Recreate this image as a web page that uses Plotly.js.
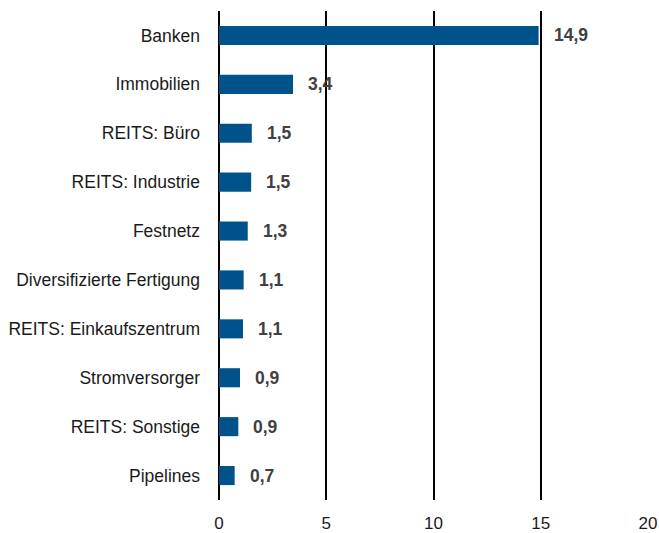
<!DOCTYPE html>
<html>
<head>
<meta charset="utf-8">
<script src="https://cdn.plot.ly/plotly-3.0.1.min.js"></script>
<style>
  html, body { margin: 0; padding: 0; background: #fff; }
  #chart { width: 659px; height: 533px; }
</style>
</head>
<body>
<div id="chart"></div>
<script>
"use strict";

/******** data ********/
var categories = ['Banken', 'Immobilien', 'REITS: Büro', 'REITS: Industrie', 'Festnetz',
  'Diversifizierte Fertigung', 'REITS: Einkaufszentrum', 'Stromversorger', 'REITS: Sonstige', 'Pipelines'];
var values = [14.9, 3.45, 1.53, 1.5, 1.34, 1.15, 1.12, 0.98, 0.9, 0.73];    /* bar lengths */
var valueLabels = ['14,9', '3,4', '1,5', '1,5', '1,3', '1,1', '1,1', '0,9', '0,9', '0,7'];
var xTicks = [0, 5, 10, 15, 20];

var barColor = '#00538a';
var labelColor = '#404040';

var data = [
  {
    type: 'bar',
    orientation: 'h',
    x: values,
    y: categories,
    marker: { color: barColor, line: { width: 0 } },
    hoverinfo: 'skip'
  }
];

/******** value labels to the right of each bar ********/
var annotations = values.map(function (v, i) {
  return {
    x: v, y: categories[i], xref: 'x', yref: 'y',
    text: '<b>' + valueLabels[i] + '</b>',
    showarrow: false, xanchor: 'left', xshift: 13,
    font: { family: 'Liberation Sans, Arial, sans-serif', size: 17.5, color: labelColor }
  };
});

var layout = {
  width: 659,
  height: 533,
  margin: { l: 219, r: 11, t: 11, b: 33 },
  paper_bgcolor: '#fff',
  plot_bgcolor: '#fff',
  showlegend: false,
  bargap: 0.61,
  font: { family: 'Liberation Sans, Arial, sans-serif', size: 17.5, color: '#1a1a1a' },
  xaxis: {
    range: [0, 20],
    tickvals: xTicks,
    ticktext: xTicks.map(String),
    tickfont: { size: 17 },
    showgrid: true,
    gridcolor: '#000',
    gridwidth: 2,
    zeroline: true,
    zerolinecolor: '#000',
    zerolinewidth: 2,
    showline: false,
    ticks: '',
    ticklabelstandoff: 11,
    fixedrange: true
  },
  yaxis: {
    categoryorder: 'array',
    categoryarray: categories,
    autorange: 'reversed',
    showgrid: false,
    zeroline: false,
    showline: false,
    ticks: '',
    ticklabelstandoff: 18,
    fixedrange: true
  },
  annotations: annotations
};

Plotly.newPlot('chart', data, layout, { displayModeBar: false, staticPlot: true });
</script>
</body>
</html>
